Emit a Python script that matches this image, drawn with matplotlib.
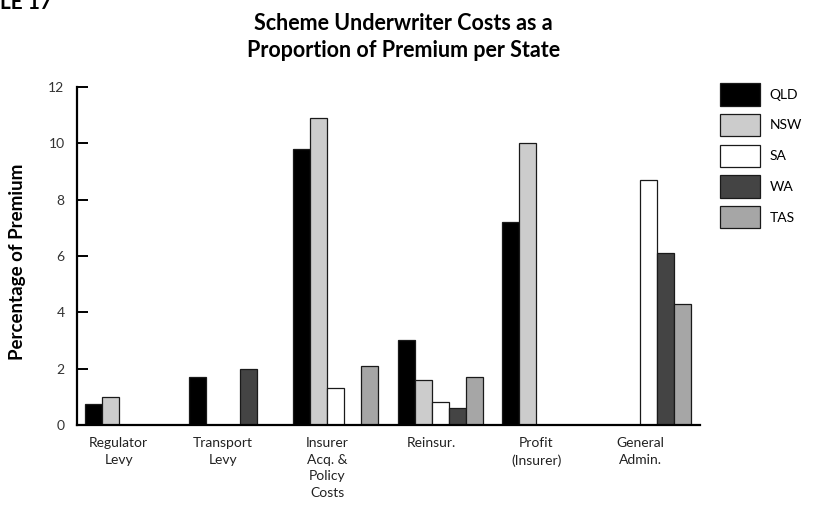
import numpy as np
import matplotlib
matplotlib.use("Agg")
import matplotlib.pyplot as plt

plt.rcParams['font.family'] = ['Lato', 'DejaVu Sans']

categories = ["Regulator\nLevy", "Transport\nLevy", "Insurer\nAcq. &\nPolicy\nCosts",
              "Reinsur.", "Profit\n(Insurer)", "General\nAdmin."]
states = ["QLD", "NSW", "SA", "WA", "TAS"]
# values, 0 = no bar
qld = [0.75, 1.7, 9.8, 3.0, 7.2, 0]
nsw = [1.0, 0, 10.9, 1.6, 10.0, 0]
sa = [0, 0, 1.3, 0.8, 0, 8.7]
wa = [0, 2.0, 0, 0.6, 0, 6.1]
tas = [0, 0, 2.1, 1.7, 0, 4.3]
series = [qld, nsw, sa, wa, tas]
colors = ["#000000", "#cccccc", "#ffffff", "#444444", "#a6a6a6"]

fig = plt.figure(figsize=(8.14, 5.20), dpi=100)
ax = fig.add_axes([0.0946, 0.1827, 0.7654, 0.65])

x = np.arange(len(categories))
w = 0.163
for k, vals in enumerate(series):
    vals = np.array(vals, dtype=float)
    mask = vals > 0
    ax.bar(x[mask] + (k - 2) * w, vals[mask], width=w, color=colors[k],
           edgecolor="#1a1a1a", linewidth=0.9, label=states[k])

ax.set_xlim(-0.48, 5.49)
ax.set_ylim(0, 12)
ax.set_yticks(range(0, 13, 2))
ax.spines['top'].set_visible(False)
ax.spines['right'].set_visible(False)
ax.spines['left'].set_linewidth(1.6)
ax.spines['bottom'].set_linewidth(1.6)
ax.tick_params(axis='y', direction='in', length=8, width=1.4, pad=9,
               labelsize=10, labelcolor="#333333")
ax.set_xticks(x - 0.08)
ax.set_xticklabels(categories, fontsize=10, color="#222222", linespacing=1.45, va='top')
ax.tick_params(axis='x', length=0, pad=9)

ax.legend(loc='upper left', bbox_to_anchor=(0.884, 0.84), bbox_transform=fig.transFigure,
          frameon=False, fontsize=10, handlelength=2.9, handleheight=2.1,
          labelspacing=0.6, handletextpad=0.7, borderpad=0, borderaxespad=0)

fig.text(0.496, 0.929, "Scheme Underwriter Costs as a\nProportion of Premium per State",
         ha='center', va='center', fontsize=15.5, fontweight='bold', linespacing=1.35)
fig.text(0.022, 1 - 262 / 520, "Percentage of Premium", rotation=90, ha='center',
         va='center', fontsize=13.5, fontweight='bold')
fig.text(0.0, 1 - 3 / 520, "LE 17", ha='left', va='center', fontsize=15, fontweight='bold')

fig.savefig("out.png", dpi=100)
